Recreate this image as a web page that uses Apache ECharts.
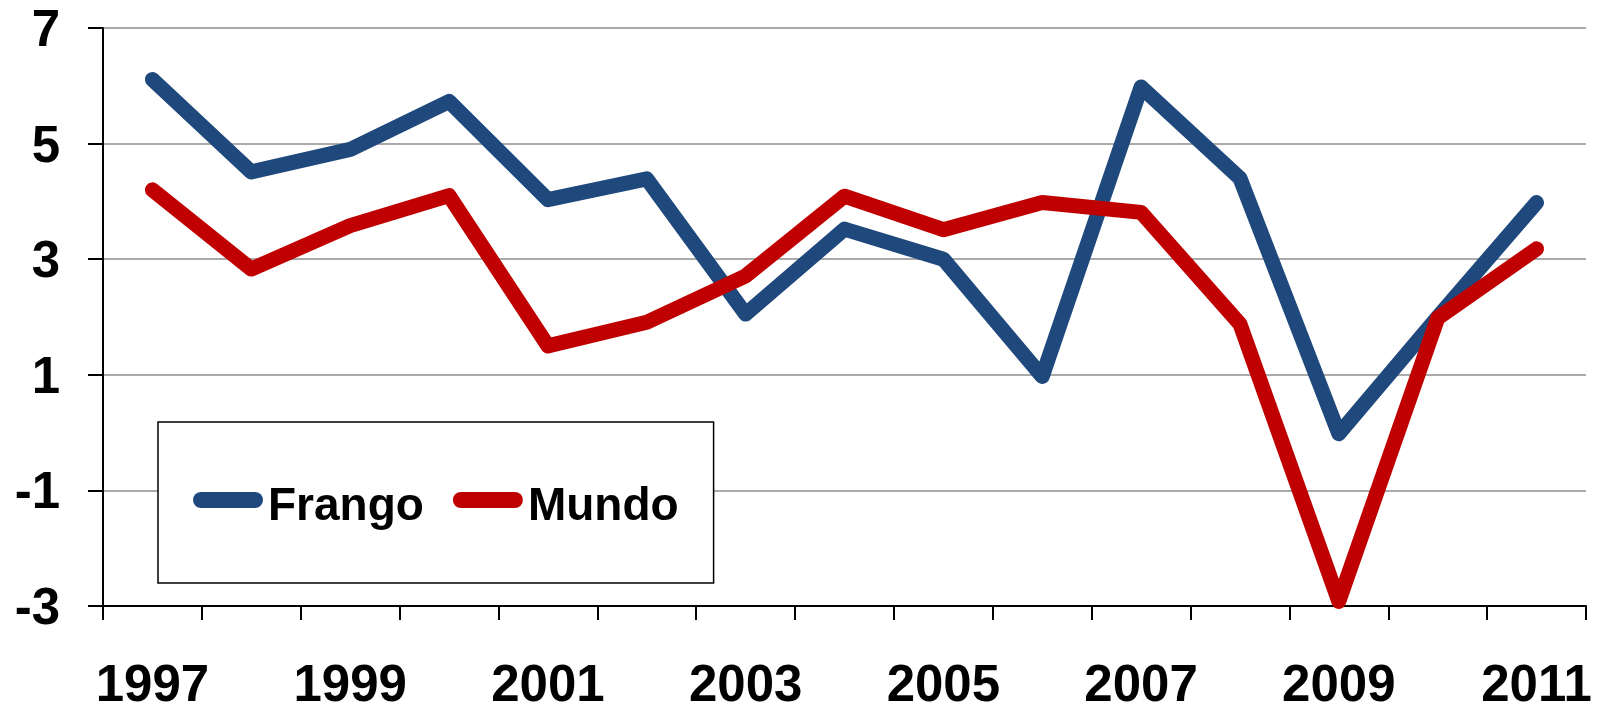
<!DOCTYPE html>
<html>
<head>
<meta charset="utf-8">
<script src="https://cdn.jsdelivr.net/npm/echarts@6/dist/echarts.min.js"></script>
<style>
  html, body { margin: 0; padding: 0; background: #fff; }
  #chart { width: 1609px; height: 708px; }
</style>
</head>
<body>
<div id="chart"></div>
<script>
const years = ['1997', '1998', '1999', '2000', '2001', '2002', '2003', '2004',
  '2005', '2006', '2007', '2008', '2009', '2010', '2011'];
const frango = [6.11, 4.51, 4.9, 5.73, 4.03, 4.39, 2.05, 3.52, 3.0, 0.97, 5.98, 4.4, -0.02, 2.0, 3.98];
const mundo = [4.2, 2.83, 3.58, 4.1, 1.5, 1.91, 2.71, 4.09, 3.51, 3.98, 3.81, 1.88, -2.92, 1.98, 3.18];
const yMin = -3;
const yMax = 7;
const yStep = 2;

const FONT = "'Liberation Sans', Arial, sans-serif";
const BLUE = '#1f497d';
const RED = '#c00000';

const chart = echarts.init(document.getElementById('chart'));

// pill shaped legend marker, like the thick rounded line in the original
const pill = 'path://M8,0 H62 A8,8 0 0 1 62,16 H8 A8,8 0 0 1 8,0 Z';

const bold = (size) => ({
  fontFamily: FONT,
  fontSize: size,
  fontWeight: 'bold',
  color: '#000'
});

const option = {
  backgroundColor: '#fff',
  animation: false,
  grid: { left: 103, right: 23, top: 28, bottom: 102, outerBoundsMode: 'none' },
  legend: {
    left: 158,
    top: 422,
    data: [
      { name: 'Frango', icon: pill },
      { name: 'Mundo', icon: pill }
    ],
    formatter: '{t|{name}}',
    itemWidth: 70,
    itemHeight: 16,
    itemGap: 29,
    padding: [48, 35, 53, 35],
    borderColor: '#000',
    borderWidth: 1.5,
    backgroundColor: '#fff',
    textStyle: {
      ...bold(46),
      rich: { t: { ...bold(46), lineHeight: 50, padding: [14, 0, 0, 0] } }
    }
  },
  xAxis: {
    type: 'category',
    data: years,
    boundaryGap: true,
    axisLine: { onZero: false, lineStyle: { color: '#000', width: 2 } },
    axisTick: { show: true, interval: 0, length: 14, lineStyle: { color: '#000', width: 2 } },
    axisLabel: {
      interval: 1,
      margin: 55,
      ...bold(51)
    },
    splitLine: { show: false }
  },
  yAxis: {
    type: 'value',
    min: yMin,
    max: yMax,
    interval: yStep,
    axisLine: { show: true, lineStyle: { color: '#000', width: 2 } },
    axisTick: { show: true, length: 15, lineStyle: { color: '#000', width: 2 } },
    axisLabel: {
      margin: 43,
      ...bold(51),
      formatter: (v) => '{t|' + v + '}',
      rich: { t: { ...bold(51), padding: [8, 0, 0, 0] } }
    },
    splitLine: { show: true, lineStyle: { color: '#aaaaaa', width: 2 } }
  },
  series: [
    {
      name: 'Frango',
      type: 'line',
      data: frango,
      showSymbol: false,
      symbol: 'none',
      itemStyle: { color: BLUE },
      lineStyle: { color: BLUE, width: 15, cap: 'round', join: 'round' }
    },
    {
      name: 'Mundo',
      type: 'line',
      data: mundo,
      showSymbol: false,
      symbol: 'none',
      itemStyle: { color: RED },
      lineStyle: { color: RED, width: 15, cap: 'round', join: 'round' }
    }
  ]
};

chart.setOption(option);
</script>
</body>
</html>
